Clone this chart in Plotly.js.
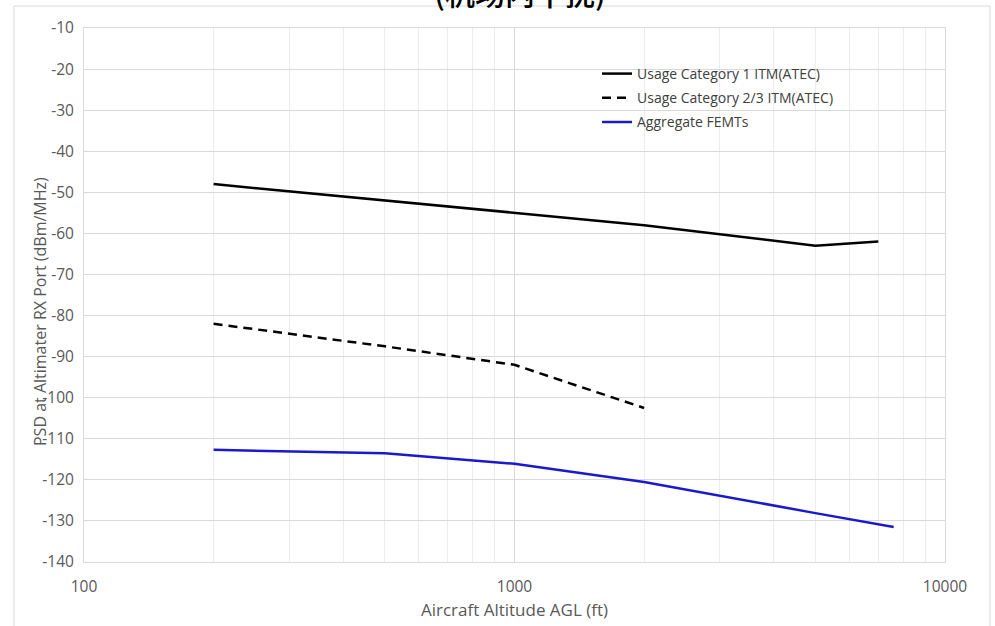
<!DOCTYPE html>
<html>
<head>
<meta charset="utf-8">
<script src="https://cdn.plot.ly/plotly-3.0.1.min.js"></script>
<style>
  html, body { margin: 0; padding: 0; background: #ffffff; }
  #chart { width: 995px; height: 626px; }
</style>
</head>
<body>
<div id="chart"></div>
<script>
// Altitude above ground level (ft) for each series
const altCat1 = [200, 500, 1000, 2000, 5000, 7000];
const altCat23 = [200, 500, 1000, 2000];
const altFemt = [200, 500, 1000, 2000, 5000, 7600];

// PSD at altimeter RX port (dBm/MHz)
const psdCat1 = [-48, -52, -55, -58, -63, -62];
const psdCat23 = [-82, -87.5, -92, -102.5];
const psdFemt = [-112.7, -113.5, -116.1, -120.5, -128.1, -131.5];

const seriesNames = [
  'Usage Category 1 ITM(ATEC)',
  'Usage Category 2/3 ITM(ATEC)',
  'Aggregate FEMTs'
];

const xTickVals = [100, 1000, 10000];
const xTickText = ['100', '1000', '10000'];
const yTickVals = [-140, -130, -120, -110, -100, -90, -80, -70, -60, -50, -40, -30, -20, -10];
const yTickText = ['-140', '-130', '-120', '-110', '-100', '-90', '-80', '-70', '-60', '-50', '-40', '-30', '-20', '-10'];

const chartTitle = '(机场内干扰)';
const xTitle = 'Aircraft Altitude AGL (ft)';
const yTitle = 'PSD at Altimater RX Port (dBm/MHz)';

const W = 995, H = 626;
const M = { l: 84, r: 50, t: 28, b: 64 };
const plotW = W - M.l - M.r, plotH = H - M.t - M.b;
const px = x => (x - M.l) / plotW;          // pixel -> paper x
const py = y => 1 - (y - M.t) / plotH;      // pixel -> paper y

const tickFont = { family: 'Open Sans, sans-serif', size: 15.5, color: '#595959' };

const traces = [
  { x: altCat1, y: psdCat1, name: seriesNames[0], legendgroup: 'a',
    mode: 'lines', line: { color: '#000000', width: 2.5 } },
  { x: altCat23, y: psdCat23, name: seriesNames[1], legendgroup: 'b',
    mode: 'lines', line: { color: '#000000', width: 2.5, dash: '9px,6px' } },
  { x: altFemt, y: psdFemt, name: seriesNames[2], legendgroup: 'c',
    mode: 'lines', line: { color: '#1a1acc', width: 2.5 } }
];

const layout = {
  width: W, height: H,
  margin: M,
  paper_bgcolor: '#ffffff',
  plot_bgcolor: '#ffffff',
  font: { family: 'Open Sans, sans-serif', color: '#595959' },
  title: {
    text: chartTitle,
    font: { family: 'Noto Sans CJK SC', size: 30, color: '#000000', weight: 500 },
    xref: 'container', x: 0.5226, xanchor: 'center',
    yref: 'container', y: 0.992, yanchor: 'bottom'
  },
  showlegend: true,
  legend: {
    x: px(597), y: py(58), xanchor: 'left', yanchor: 'top',
    bgcolor: 'rgba(0,0,0,0)',
    font: { family: 'Open Sans, sans-serif', size: 14, color: '#404040' },
    tracegroupgap: 3
  },
  xaxis: {
    type: 'log',
    range: [2, 4],
    tickvals: xTickVals,
    ticktext: xTickText,
    tickfont: tickFont,
    ticks: 'outside',
    ticklen: 10,
    tickcolor: 'rgba(0,0,0,0)',
    showgrid: true,
    gridcolor: '#d9d9d9',
    gridwidth: 1,
    minor: { dtick: 'D1', showgrid: true, gridcolor: '#ececec', gridwidth: 1, ticks: '' },
    showline: true, linecolor: '#d9d9d9', linewidth: 1, mirror: true,
    zeroline: false,
    title: { text: xTitle, font: { family: 'Open Sans, sans-serif', size: 17, color: '#595959' }, standoff: 8 }
  },
  yaxis: {
    range: [-140, -10],
    tickvals: yTickVals,
    ticktext: yTickText,
    tickfont: tickFont,
    ticks: 'outside', ticklen: 6, tickcolor: 'rgba(0,0,0,0)',
    showgrid: true,
    gridcolor: '#d9d9d9',
    gridwidth: 1,
    showline: true, linecolor: '#d9d9d9', linewidth: 1, mirror: true,
    zeroline: false
  },
  annotations: [
    {
      text: yTitle, textangle: -90,
      xref: 'paper', yref: 'paper',
      x: px(40), y: py(312), xanchor: 'center', yanchor: 'middle',
      showarrow: false,
      font: { family: 'Open Sans, sans-serif', size: 16, color: '#595959' }
    }
  ],
  shapes: [
    {
      type: 'rect', xref: 'paper', yref: 'paper', layer: 'below',
      x0: px(14), x1: px(990), y0: py(660), y1: py(6),
      line: { color: '#d9d9d9', width: 1 }, fillcolor: 'rgba(0,0,0,0)'
    }
  ]
};

Plotly.newPlot('chart', traces, layout, { displayModeBar: false, staticPlot: true });
</script>
</body>
</html>
